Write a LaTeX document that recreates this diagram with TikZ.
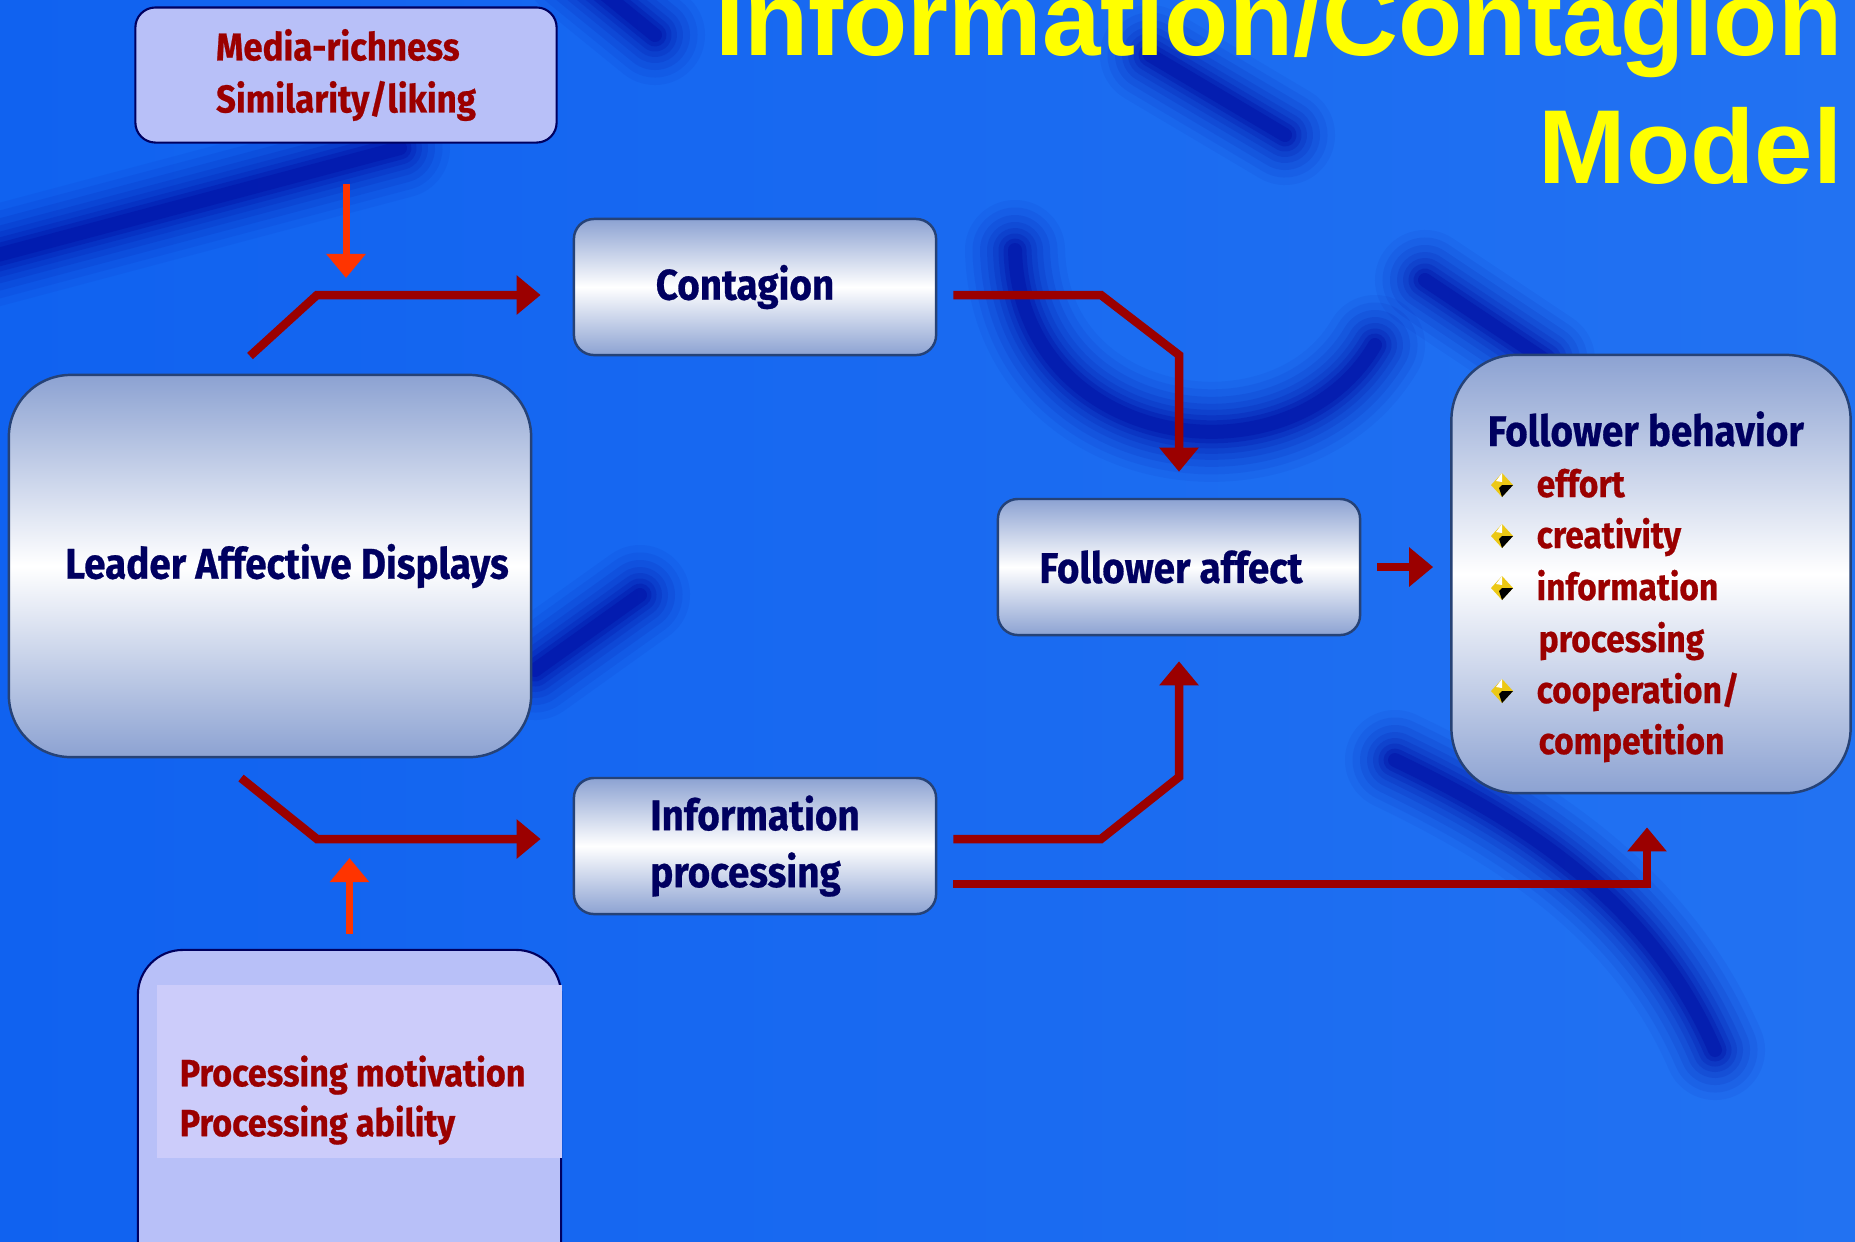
\documentclass[tikz,border=0pt]{standalone}
\usepackage{fontspec}
\setmainfont{Fira Sans}[FakeStretch=0.9, BoldFeatures={FakeBold=0.6}]
\newfontfamily\titlefont{Liberation Sans}
\usetikzlibrary{arrows.meta, positioning, calc}

\definecolor{bgblue}{RGB}{16,98,240}
\definecolor{bgblue2}{RGB}{34,114,242}
\definecolor{swooshblue}{RGB}{0,10,160}
\definecolor{boxtop}{RGB}{140,162,210}
\definecolor{boxline}{RGB}{38,66,118}
\definecolor{navytext}{RGB}{0,0,96}
\definecolor{darkred}{RGB}{155,0,0}
\definecolor{arrowred}{RGB}{255,52,0}
\definecolor{lavender}{RGB}{184,192,248}
\definecolor{lavlight}{RGB}{204,204,250}
\definecolor{bulyellow}{RGB}{236,200,20}
\definecolor{titleyellow}{RGB}{255,255,0}

\tikzset{
  flowbox/.style={draw=boxline, line width=0.7pt, rounded corners=0.2cm,
    top color=boxtop, bottom color=boxtop, middle color=white,
    text=navytext, font=\bfseries\fontsize{12.2}{16.2}\selectfont, align=left,
    minimum width=3.62cm, minimum height=1.36cm},
  notebox/.style={draw=navytext, line width=0.6pt, fill=lavender, rounded corners=0.2cm},
  notetext/.style={text=darkred, font=\bfseries\fontsize{11}{14.8}\selectfont, align=left},
  headtext/.style={text=navytext, font=\bfseries\fontsize{12.2}{16}\selectfont, anchor=base west, inner sep=0pt},
  itemtext/.style={text=darkred, font=\bfseries\fontsize{10.6}{14}\selectfont, anchor=base west, inner sep=0pt},
  redline/.style={draw=darkred, line width=0.085cm, -{Triangle[length=0.24cm, width=0.38cm]}},
  orangeline/.style={draw=arrowred, line width=0.07cm, -{Triangle[length=0.24cm, width=0.38cm]}},
  swoosh/.style={draw=swooshblue, line cap=round},
  titletext/.style={text=titleyellow, font=\titlefont\bfseries\fontsize{29.9}{36}\selectfont, anchor=base east, inner sep=0pt},
  fbullet/.pic={
    \fill[bulyellow] (0,-12) -- (11,0) -- (0,12) -- (-11,0) -- cycle;
    \fill[black] (0,0) -- (11,0) -- (0,12) -- (-3,3) -- cycle;
    \fill[white] (0,-12) -- (-6,-4) -- (0,-3) -- cycle;
  }
}

\begin{document}
\begin{tikzpicture}[x=0.01cm, y=-0.01cm]
\useasboundingbox (0,0) rectangle (1855,1241);
\clip (0,0) rectangle (1855,1241);
\shade[left color=bgblue, right color=bgblue2] (0,0) rectangle (1855,1241);

% background swooshes
\foreach \w/\o in {1.0/0.06, 0.85/0.08, 0.7/0.1, 0.56/0.12, 0.44/0.15, 0.33/0.2, 0.23/0.28, 0.14/0.35} {
  \draw[swoosh, line width=\w cm, opacity=\o] (-40,265) -- (400,148);
  \draw[swoosh, line width=\w cm, opacity=\o] (575,-30) -- (655,35);
  \draw[swoosh, line width=\w cm, opacity=\o] (1150,55) -- (1285,135);
  \draw[swoosh, line width=\w cm, opacity=\o] (1015,250) .. controls (1020,450) and (1290,490) .. (1375,345);
  \draw[swoosh, line width=\w cm, opacity=\o] (1425,280) -- (1545,360);
  \draw[swoosh, line width=\w cm, opacity=\o] (1395,760) .. controls (1520,820) and (1650,900) .. (1715,1050);
  \draw[swoosh, line width=\w cm, opacity=\o] (535,670) -- (640,595);
}

% title
\node[titletext] (title1) at (1843,55) {Information/Contagion};
\node[titletext] (title2) at (1843,183) {Model};

% boxes
\node[notebox, notetext, minimum width=4.21cm, minimum height=1.35cm] (media) at (346,75) {Media-richness\\Similarity/liking};
\node[flowbox] (contag) at (755,287) {Contagion\hspace*{0.2cm}};
\node[flowbox] (info) at (755,846) {Information\\processing};
\node[flowbox] (affect) at (1179,567) {Follower affect\hspace*{0.16cm}};
\node[flowbox, minimum width=5.22cm, minimum height=3.82cm, rounded corners=0.62cm] (lead) at (270,566) {\hspace*{0.34cm}Leader Affective Displays};
\node[flowbox, minimum width=3.99cm, minimum height=4.38cm, rounded corners=0.65cm] (behav) at (1651,574) {};

\node[notebox, minimum width=4.23cm, minimum height=3.5cm, rounded corners=0.45cm] (proc) at (349.5,1125) {};
\node[fill=lavlight, minimum width=4.05cm, minimum height=1.73cm, inner sep=0pt] (procfill) at (359.5,1071.5) {};
\node[notetext, anchor=west, inner sep=0pt, font=\bfseries\fontsize{10.8}{14.2}\selectfont] (proclabel) at (179,1100) {Processing motivation\\Processing ability};

% follower behavior list
\node[headtext] (behavhead) at (1487,446) {Follower behavior};
\node[itemtext] (effort) at (1536,497) {effort};
\node[itemtext] (creat) at (1536,548) {creativity};
\node[itemtext] (inform) at (1536,600) {information};
\node[itemtext] (procs) at (1538,652) {processing};
\node[itemtext] (coop) at (1536,703) {cooperation/};
\node[itemtext] (compet) at (1538,754) {competition};
\foreach \y in {485,536,588,691} {
  \pic at (1502,\y) {fbullet};
}

% connectors
\coordinate (cstart) at (250,356);
\coordinate (cbend) at (317,295);
\coordinate (istart) at (241,778);
\coordinate (ibend) at (317,839);
\coordinate (cdiag) at (1101,295);
\coordinate (cdrop) at (1179,355);
\coordinate (idiag) at (1101,839);
\coordinate (irise) at (1179,777);
\coordinate (ilow) at (1647,884);

\draw[redline, shorten >=0.32cm] (cstart) -- (cbend) -- (contag.west |- cbend);
\draw[redline, shorten <=0.16cm, shorten >=0.26cm] (contag.east |- cbend) -- (cdiag) -- (cdrop) -- (affect.north);
\draw[redline, shorten >=0.32cm] (istart) -- (ibend) -- (info.west |- ibend);
\draw[redline, shorten <=0.16cm, shorten >=0.25cm] (info.east |- ibend) -- (idiag) -- (irise) -- (affect.south);
\draw[redline, shorten <=0.16cm, shorten >=0.33cm] (info.east |- ilow) -- (ilow) -- (ilow |- behav.south);
\draw[redline, shorten <=0.16cm, shorten >=0.17cm] (affect.east) -- (behav.west |- affect.east);
\draw[orangeline, shorten <=0.40cm, shorten >=0.17cm] (media.south) -- (media.south |- cbend);
\draw[orangeline, shorten <=0.15cm, shorten >=0.19cm] (proc.north) -- (proc.north |- ibend);
\end{tikzpicture}
\end{document}
